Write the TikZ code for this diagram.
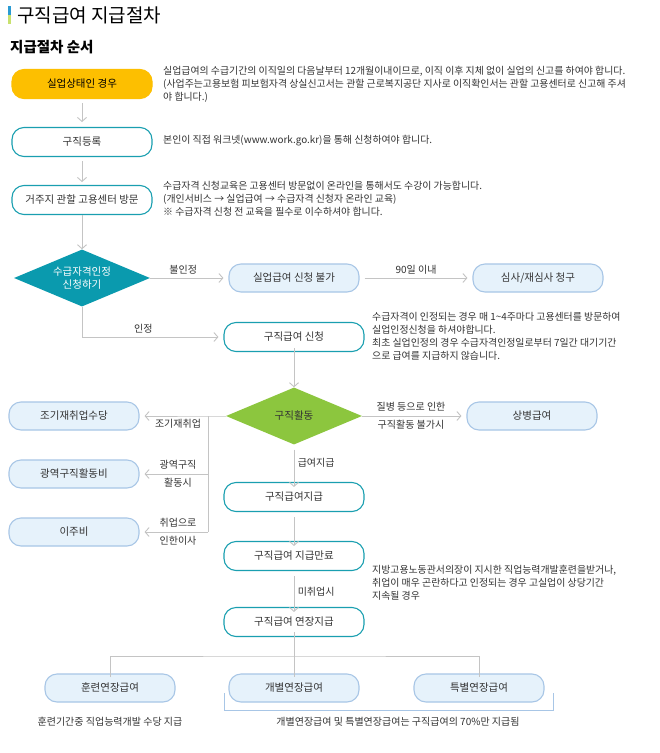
\documentclass[tikz,border=0pt]{standalone}
\usepackage{fontspec}
\setmainfont{Noto Sans CJK KR}
\usetikzlibrary{shapes.geometric,arrows.meta}
\definecolor{teal}{HTML}{1A9FB0}
\definecolor{orng}{HTML}{FDBF00}
\definecolor{lbf}{HTML}{E6F2FB}
\definecolor{lbd}{HTML}{A8C6E6}
\definecolor{dteal}{HTML}{0A9AAE}
\definecolor{grn}{HTML}{8CC63E}
\definecolor{ln}{HTML}{C4C4C4}
\definecolor{tx}{HTML}{333333}
\definecolor{barb}{HTML}{2B9BD3}
\definecolor{barg}{HTML}{C8E16E}
\begin{document}
\begin{tikzpicture}[x=1pt,y=-1pt,
  box/.style={draw=teal,line width=1.1pt,fill=white,rounded corners=12pt,minimum width=140pt,minimum height=29pt,font=\fontsize{10.5}{12}\selectfont,text=tx},
  obox/.style={box,draw=orng,fill=orng,text=black},
  lbox/.style={box,draw=lbd,fill=lbf,minimum width=130pt,minimum height=28pt},
  desc/.style={anchor=north west,align=left,font=\fontsize{9.9}{13.2}\selectfont,text=tx,inner sep=0pt},
  lbl/.style={font=\fontsize{10}{17.5}\selectfont,text=tx,align=center},
  arr/.style={draw=ln,line width=0.9pt,-{Straight Barb[length=4pt,width=9pt]}},
  ln/.style={draw=ln,line width=0.9pt},
  dia/.style={diamond,aspect=2.4,minimum width=136pt,minimum height=57pt,inner sep=0pt,text=white,font=\fontsize{10.5}{13}\selectfont,align=center}]
\useasboundingbox[fill=white] (0,0) rectangle (660,753);
% title
\fill[barb] (8,6) rectangle (11,15);
\fill[barg] (8,15) rectangle (11,24);
\node[anchor=west,font=\fontsize{19}{22}\selectfont,inner sep=0pt] (title) at (17,15) {구직급여 지급절차};
\node[anchor=west,font=\bfseries\fontsize{14.5}{17}\selectfont,inner sep=0pt] (sub) at (10,47) {지급절차 순서};
% column 1
\node[obox] (b1) at (82,84) {실업상태인 경우};
\node[box] (b2) at (82,142) {구직등록};
\node[box] (b3) at (82,200) {거주지 관할 고용센터 방문};
\node[dia,fill=dteal] (d1) at (82,278) {수급자격인정\\신청하기};
\node[desc] (t1) at (163,66) {실업급여의 수급기간의 이직일의 다음날부터 12개월이내이므로, 이직 이후 지체 없이 실업의 신고를 하여야 합니다.\\(사업주는고용보험 피보험자격 상실신고서는 관할 근로복지공단 지사로 이직확인서는 관할 고용센터로 신고해 주셔\\야 합니다.)};
\node[desc] (t2) at (163,135) {본인이 직접 워크넷(www.work.go.kr)을 통해 신청하여야 합니다.};
\node[desc] (t3) at (163,181) {수급자격 신청교육은 고용센터 방문없이 온라인을 통해서도 수강이 가능합니다.\\(개인서비스 → 실업급여 → 수급자격 신청자 온라인 교육)\\※ 수급자격 신청 전 교육을 필수로 이수하셔야 합니다.};
\draw[arr] (b1.south)++(0,4) -- ++(0,19);
\draw[arr] (b2.south)++(0,4) -- ++(0,21);
\draw[arr] (b3.south) -- (d1.north);
% row 불인정
\node[lbox] (n1) at (294,278) {실업급여 신청 불가};
\node[lbox] (n2) at (538,278) {심사/재심사 청구};
\draw[arr] (d1.east) -- node[lbl,above,pos=0.45]{불인정} ([xshift=-5pt]n1.west);
\draw[arr] ([xshift=5pt]n1.east) -- node[lbl,above]{90일 이내} ([xshift=-5pt]n2.west);
% 구직급여 신청
\node[box] (b4) at (294,337) {구직급여 신청};
\node[desc] (t4) at (372,312) {수급자격이 인정되는 경우 매 1\textasciitilde4주마다 고용센터를 방문하여\\실업인정신청을 하셔야합니다.\\최초 실업인정의 경우 수급자격인정일로부터 7일간 대기기간\\으로 급여를 지급하지 않습니다.};
\coordinate (c1) at (82,337);
\draw[arr] (d1.south) -- (c1) -- node[lbl,above,pos=0.45]{인정} ([xshift=-5pt]b4.west);
% 구직활동
\node[dia,fill=grn,text=tx] (d2) at (294,416) {구직활동};
\draw[arr] ([yshift=4pt]b4.south) -- (d2.north);
\node[lbox] (l1) at (74,416) {조기재취업수당};
\node[lbox] (l2) at (74,474) {광역구직활동비};
\node[lbox] (l3) at (74,532) {이주비};
\node[lbox] (r1) at (532,416) {상병급여};
\coordinate (v0) at (208,416);
\coordinate (v1) at (208,474);
\coordinate (v2) at (208,532);
\draw[arr] (d2.west) -- (v0) -- ([xshift=5pt]l1.east);
\node[lbl,below] (lb1) at (178,416) {조기재취업};
\draw[ln] (v0) -- (v2);
\draw[arr] (v1) -- ([xshift=5pt]l2.east);
\draw[arr] (v2) -- ([xshift=5pt]l3.east);
\node[lbl] (lb2) at (178,474) {광역구직\\활동시};
\node[lbl] (lb3) at (178,532) {취업으로\\인한이사};
\draw[arr] (d2.east) -- ([xshift=-5pt]r1.west);
\node[lbl] (lb4) at (411,416) {질병 등으로 인한\\구직활동 불가시};
% lower column
\node[box] (b5) at (294,497) {구직급여지급};
\node[box] (b6) at (294,556) {구직급여 지급만료};
\node[box] (b7) at (294,622) {구직급여 연장지급};
\draw[arr] ([yshift=-5pt]d2.south) -- node[lbl,right,pos=0.35]{급여지급} ([yshift=-5pt]b5.north);
\draw[arr] ([yshift=-5pt]b5.south) -- ([yshift=-5pt]b6.north);
\draw[arr] ([yshift=-5pt]b6.south) -- node[lbl,right,pos=0.45]{미취업시} ([yshift=-5pt]b7.north);
\node[desc] (t5) at (372,565) {지방고용노동관서의장이 지시한 직업능력개발훈련을받거나,\\취업이 매우 곤란하다고 인정되는 경우 고실업이 상당기간\\지속될 경우};
% bottom
\node[lbox] (e1) at (110,688) {훈련연장급여};
\node[lbox] (e2) at (294,688) {개별연장급여};
\node[lbox] (e3) at (479,688) {특별연장급여};
\coordinate (h0) at (294,656);
\draw[ln] ([yshift=5pt]b7.south) -- (h0);
\draw[ln] ([yshift=-4pt]e1.north) |- (h0) -| ([yshift=-4pt]e3.north);
\draw[ln] (h0) -- ([yshift=-4pt]e2.north);
\draw[draw=lbd,line width=0.8pt] (224,693) -- (224,710) -- (553,710) -- (553,693);
\node[lbl] (bt1) at (110,722) {훈련기간중 직업능력개발 수당 지급};
\node[lbl] (bt2) at (398,722) {개별연장급여 및 특별연장급여는 구직급여의 70\%만 지급됨};
\end{tikzpicture}
\end{document}
